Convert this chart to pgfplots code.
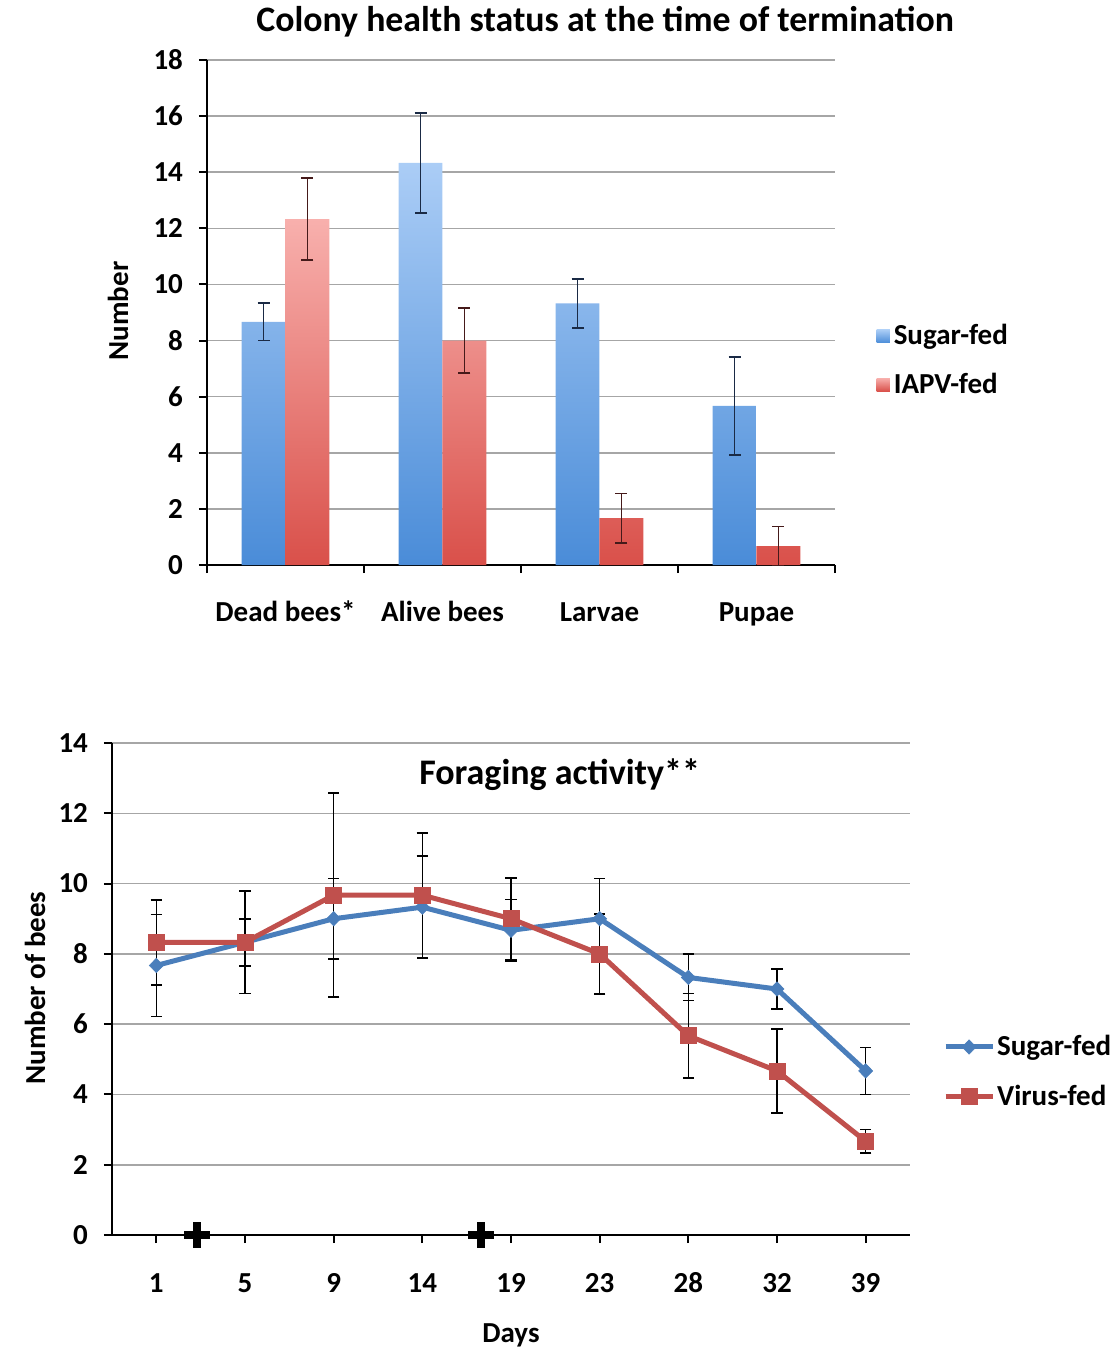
\documentclass[border=0pt]{standalone}
\usepackage{fontspec}
\setmainfont{Carlito}
\usepackage{pgfplots}
\usepackage{pgfplotstable}
\pgfplotsset{compat=1.18}

\definecolor{sugarline}{HTML}{4A7EBB}
\definecolor{virusline}{HTML}{C0504D}
\definecolor{bluetop}{HTML}{ABCDF6}
\definecolor{bluebot}{HTML}{4A8CD8}
\definecolor{redtop}{HTML}{F8B0AD}
\definecolor{redbot}{HTML}{D9504A}
\definecolor{gridgray}{HTML}{A6A6A6}
\definecolor{errblue}{HTML}{1A2A45}
\definecolor{errred}{HTML}{451A1A}

% colony status at termination: mean and error per category
\pgfplotstableread{
x sugar sugarerr iapv iapverr
0 8.67  0.67  12.33 1.47
1 14.33 1.77  8.00  1.17
2 9.33  0.87  1.67  0.88
3 5.67  1.75  0.67  0.70
}\colonytable

% foraging counts per observation day (index 1..9)
\pgfplotstableread{
x sugar se   virus ve
1 7.67  1.45 8.33  1.21
2 8.33  1.46 8.33  0.67
3 9.00  1.15 9.67  2.90
4 9.33  1.45 9.67  1.77
5 8.67  0.88 9.00  1.16
6 9.00  1.14 8.00  1.14
7 7.33  0.66 5.67  1.20
8 7.00  0.57 4.67  1.20
9 4.67  0.67 2.67  0.33
}\foragetable

\newcommand{\lblfont}{\bfseries\fontsize{14.5}{17}\selectfont}

\pgfplotsset{
  every axis title shift=0pt,
  commonstyle/.style={
    scale only axis,
    /pgf/number format/assume math mode=true,
    axis x line*=bottom, axis y line*=left,
    axis line style={black, line width=1.2pt},
    tick align=outside, major tick length=4pt,
    tick style={black, line width=1pt},
    ymajorgrids, grid style={gridgray, line width=0.8pt},
    ticklabel style={font=\lblfont},
    label style={font=\lblfont},
    yticklabel style={xshift=-4.5pt},
    legend style={draw=none, fill=none, font=\lblfont, cells={anchor=west}, row sep=7pt},
  },
  barerr/.style={
    forget plot, draw=none, mark=none,
    error bars/.cd, y dir=both, y explicit,
    error bar style={draw=#1, line width=0.9pt},
    error mark options={draw=#1, line width=0.9pt, mark size=3pt, rotate=90},
  },
}

\begin{document}
\begin{tikzpicture}
\useasboundingbox (0,0) rectangle (559pt,-675.5pt);

% ---------------- colony health status ----------------
\begin{axis}[commonstyle,
  at={(103.5pt,-282.5pt)}, anchor=south west,
  width=314pt, height=252.5pt,
  xmin=-0.5, xmax=3.5, ymin=0, ymax=18,
  ytick={0,2,...,18},
  xtick={-0.5,0.5,1.5,2.5,3.5},
  xticklabels={Dead bees*, Alive bees, Larvae, Pupae},
  x tick label as interval,
  xticklabel style={yshift=-10pt, text height=10.5pt, text depth=3pt},
  ylabel={Number},
  y label style={at={(axis description cs:-0.1417,0.503)}, anchor=center},
  title={Colony health status at the time of termination},
  title style={at={(axis description cs:0.634,1.075)}, anchor=center, font=\bfseries\fontsize{17.9}{20}\selectfont},
  legend style={at={(axis description cs:1.056,0.405)}, anchor=west, row sep=8.5pt},
]
\addplot[ybar, bar width=0.28, bar shift=-0.14, draw=none, top color=bluetop, bottom color=bluebot,
  legend image code/.code={\fill[top color=bluetop, bottom color=bluebot] (0pt,-3.3pt) rectangle (6.6pt,3.3pt);}]
  table[x=x, y=sugar] {\colonytable};
\addlegendentry{Sugar-fed}
\addplot[ybar, bar width=0.28, bar shift=0.14, draw=none, top color=redtop, bottom color=redbot,
  legend image code/.code={\fill[top color=redtop, bottom color=redbot] (0pt,-3.3pt) rectangle (6.6pt,3.3pt);}]
  table[x=x, y=iapv] {\colonytable};
\addlegendentry{IAPV-fed}
% error bars, centred on each bar
\addplot[barerr=errblue] table[x expr=\thisrow{x}-0.14, y=sugar, y error=sugarerr] {\colonytable};
\addplot[barerr=errred] table[x expr=\thisrow{x}+0.14, y=iapv, y error=iapverr] {\colonytable};
\end{axis}

% ---------------- foraging activity ----------------
\begin{axis}[commonstyle,
  at={(56pt,-617.5pt)}, anchor=south west,
  width=399pt, height=246pt,
  clip=false,
  xmin=0.5, xmax=9.5, ymin=0, ymax=14,
  ytick={0,2,...,14},
  xtick={1,...,9},
  xticklabels={1,5,9,14,19,23,28,32,39},
  xticklabel style={yshift=-10.5pt, text height=10.5pt, text depth=3pt},
  xlabel={Days},
  x label style={at={(axis description cs:0.5,-0.203)}, anchor=center},
  ylabel={Number of bees},
  y label style={at={(axis description cs:-0.0965,0.502)}, anchor=center},
  legend style={at={(axis description cs:1.041,0.332)}, anchor=west, row sep=9pt, inner xsep=0pt, nodes={inner xsep=1pt}},
  legend image code/.code={\draw[mark repeat=2, mark phase=2, #1] plot coordinates {(0pt,0pt) (11.75pt,0pt) (23.5pt,0pt)};},
]
\node[font=\bfseries\fontsize{18}{21}\selectfont] at (axis description cs:0.561,0.935) {Foraging activity**};
\addplot[sugarline, line width=2.5pt, mark=diamond*, mark size=3.6pt,
  mark options={solid, fill=sugarline, draw=sugarline, line width=0.3pt, xscale=1.3},
  error bars/.cd, y dir=both, y explicit,
  error bar style={draw=black, line width=0.8pt},
  error mark options={draw=black, line width=0.8pt, mark size=2.8pt, rotate=90}]
  table[x=x, y=sugar, y error=se] {\foragetable};
\addlegendentry{Sugar-fed}
\addplot[virusline, line width=2.5pt, mark=square*, mark size=4pt,
  mark options={solid, fill=virusline, draw=virusline, line width=0.3pt},
  error bars/.cd, y dir=both, y explicit,
  error bar style={draw=black, line width=0.8pt},
  error mark options={draw=black, line width=0.8pt, mark size=2.8pt, rotate=90}]
  table[x=x, y=virus, y error=ve] {\foragetable};
\addlegendentry{Virus-fed}
% treatment days marked on the time axis
\addplot[forget plot, only marks, mark=+, mark size=6.5pt, mark options={line width=4pt, black}]
  coordinates {(1.46,0) (4.66,0)};
\end{axis}
\end{tikzpicture}
\end{document}
